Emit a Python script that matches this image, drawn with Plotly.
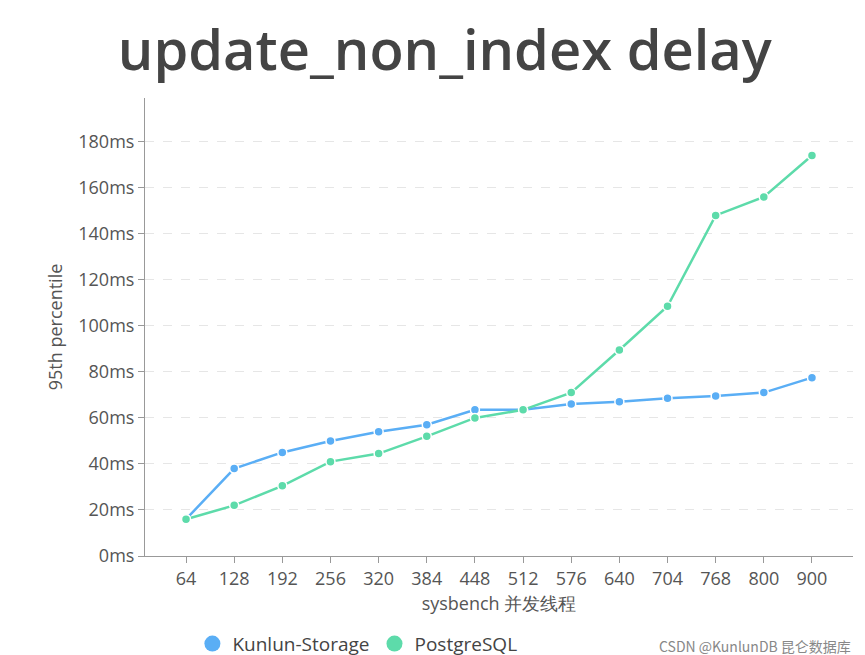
import plotly.graph_objects as go

threads = ["64","128","192","256","320","384","448","512","576","640","704","768","800","900"]
kunlun = [16,38,45,50,54,57,63.5,63.5,66,67,68.5,69.5,71,77.5]
postgres = [16,22,30.5,41,44.5,52,60,63.5,71,89.5,108.5,148,156,174]
yticks = [0,20,40,60,80,100,120,140,160,180]

fig = go.Figure()
for name, vals, col in [("Kunlun-Storage", kunlun, "#5aaef5"), ("PostgreSQL", postgres, "#5ddbaa")]:
    fig.add_trace(go.Scatter(x=threads, y=vals, name=name, mode="lines+markers", showlegend=False,
        line=dict(color=col, width=2.5),
        marker=dict(size=9, color=col, line=dict(color="white", width=1.5))))
    fig.add_trace(go.Scatter(x=[None], y=[None], name=name, mode="markers",
        marker=dict(size=18, color=col)))

fig.update_layout(
    width=865, height=655, plot_bgcolor="white", paper_bgcolor="white",
    margin=dict(l=137, r=20, t=90, b=107, autoexpand=False),
    font=dict(family="Open Sans", color="#555", size=18),
    title=dict(text="update_non_index delay", x=0.505, xanchor="center", y=0.935, yanchor="middle",
               font=dict(size=56, color="#444", weight=600)),
    xaxis=dict(type="category", title=dict(text="sysbench 并发线程", font=dict(size=18), standoff=8),
               showline=True, linecolor="#999", ticks="outside", ticklen=6, tickcolor="#999",
               showgrid=False, automargin=False),
    yaxis=dict(title=dict(text="95th percentile", font=dict(size=18), standoff=10),
               range=[0, 199], tickvals=yticks, ticktext=[f"{v}ms" for v in yticks],
               showline=True, linecolor="#999", gridcolor="#e6e6e6", griddash="dash",
               zeroline=False, ticks="outside", ticklen=6, tickcolor="#999", automargin=False),
    legend=dict(orientation="h", x=0.3, xanchor="center", y=-0.15, yanchor="top",
                font=dict(size=19, color="#444"), itemwidth=30),
)
fig.add_annotation(text="CSDN @KunlunDB 昆仑数据库", xref="paper", yref="paper", x=1.0, y=-0.17,
                   xanchor="right", yanchor="top", showarrow=False,
                   font=dict(size=14, color="#888", family="Noto Sans CJK SC"))
fig.write_html("out.html")
